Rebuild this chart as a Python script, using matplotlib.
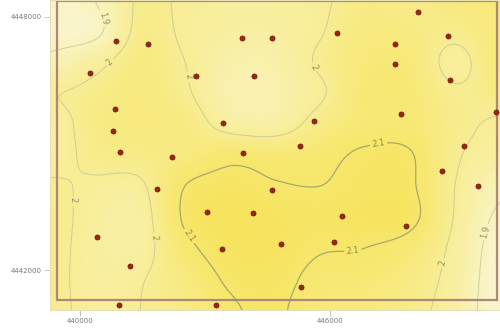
import numpy as np
import matplotlib
matplotlib.use("Agg")
import matplotlib.pyplot as plt
from matplotlib.colors import LinearSegmentedColormap
from matplotlib.patches import Rectangle

# Sample sites (easting, northing) in metres
east = [440864, 441632, 440240, 443888, 444608, 442784, 444176, 448112, 446168, 447560,
        448832, 447560, 448880, 440840, 440792, 443432, 445616, 447704, 449984, 440960,
        442208, 443912, 445280, 449216, 441848, 444608, 448688, 449552, 443048, 444152,
        446288, 447824, 440408, 443408, 444824, 446096, 441200, 445304, 440936, 443264]
north = [4447431, 4447360, 4446672, 4447502, 4447502, 4446601, 4446601, 4448118, 4447620, 4447360,
         4447549, 4446885, 4446506, 4445818, 4445296, 4445486, 4445534, 4445700, 4445747, 4444798,
         4444680, 4444775, 4444941, 4444941, 4443921, 4443897, 4444348, 4443992, 4443375, 4443352,
         4443281, 4443043, 4442783, 4442498, 4442617, 4442664, 4442095, 4441597, 4441170, 4441170]

# Interpolated surface on a coarse grid, rows from north to south
surface = [
    [1.87, 1.90, 2.01, 1.99, 1.98, 1.98, 1.99, 2.03, 2.02, 2.05, 2.06],
    [1.87, 1.88, 2.02, 1.99, 1.97, 1.97, 1.995, 2.05, 2.04, 2.02, 2.06],
    [1.92, 1.975, 2.04, 2.00, 1.95, 1.95, 2.01, 2.06, 2.06, 1.98, 2.06],
    [1.995, 2.02, 2.05, 2.01, 1.94, 1.94, 1.99, 2.07, 2.07, 2.01, 2.03],
    [1.97, 2.03, 2.05, 2.04, 1.97, 1.96, 2.03, 2.07, 2.07, 2.02, 1.99],
    [1.97, 2.02, 2.03, 2.05, 2.08, 2.07, 2.08, 2.11, 2.105, 2.01, 1.97],
    [2.01, 1.99, 1.99, 2.10, 2.12, 2.105, 2.10, 2.12, 2.11, 2.00, 1.92],
    [2.02, 1.98, 1.97, 2.11, 2.14, 2.13, 2.12, 2.13, 2.12, 1.995, 1.885],
    [2.02, 1.975, 1.97, 2.08, 2.13, 2.13, 2.105, 2.10, 2.07, 1.98, 1.86],
    [2.02, 1.975, 1.995, 2.05, 2.11, 2.12, 2.08, 2.07, 2.04, 1.97, 1.85],
    [2.02, 1.98, 2.00, 2.03, 2.09, 2.11, 2.06, 2.05, 2.02, 1.965, 1.84],
]
levels = [1.9, 2.0, 2.1]
x_ticks = [440000, 446000]
y_ticks = [4442000, 4448000]

x_min, x_max = 439280, 450080
y_min, y_max = 4441051, 4448403
frame = (439448, 4441289, 450008, 4448379)


def catmull_rom_matrix(n_in, n_out):
    """Resampling matrix for a Catmull-Rom spline through n_in nodes."""
    t = np.linspace(0, n_in - 1, n_out)
    m = np.zeros((n_out, n_in))
    for k, tk in enumerate(t):
        i = min(int(np.floor(tk)), n_in - 2)
        s = tk - i
        w = [(-s**3 + 2 * s**2 - s) / 2,
             (3 * s**3 - 5 * s**2 + 2) / 2,
             (-3 * s**3 + 4 * s**2 + s) / 2,
             (s**3 - s**2) / 2]
        for j, wj in zip(range(i - 1, i + 3), w):
            m[k, min(max(j, 0), n_in - 1)] += wj
    return m


z = np.array(surface)
ny, nx = z.shape
fy, fx = 311, 451
fine = catmull_rom_matrix(ny, fy) @ z @ catmull_rom_matrix(nx, fx).T
gx = np.linspace(x_min, x_max, fx)
gy = np.linspace(y_max, y_min, fy)

cmap = LinearSegmentedColormap.from_list(
    "pale_yellow", ["#faf6d4", "#f9f2b6", "#f8ed94", "#f7e872", "#f6e258"])

fig = plt.figure(figsize=(5, 3.33), dpi=100)
ax = fig.add_axes([0.1, 0.069, 0.9, 0.931])
ax.imshow(fine, cmap=cmap, vmin=1.84, vmax=2.16, extent=(x_min, x_max, y_min, y_max),
          origin="upper", aspect="auto", interpolation="bilinear", zorder=0)
cs = ax.contour(gx, gy, fine, levels=levels,
                colors=["#d0d1a0", "#cdce98", "#a7a96a"], linewidths=[0.7, 0.7, 0.9], zorder=1)


def to_data(px, py):
    return (x_min + (px - 50) / 450 * (x_max - x_min),
            y_max - py / 310 * (y_max - y_min))


label_px = [(90, 22), (118, 70), (198, 75), (292, 78), (378, 140), (75, 200),
            (195, 232), (157, 237), (353, 253), (440, 262), (487, 232)]
ax.clabel(cs, fmt=lambda v: f"{v:g}", fontsize=6, colors="#8c8d5c",
          manual=[to_data(*p) for p in label_px], inline=True, inline_spacing=2)

ax.add_patch(Rectangle((frame[0], frame[1]), frame[2] - frame[0], frame[3] - frame[1],
                       fill=False, edgecolor="#ad8878", linewidth=1.6, zorder=2))

ax.scatter(east, north, s=14, color="#9c2414", edgecolors="#5e120a", linewidths=0.4, zorder=3)

ax.set_xlim(x_min, x_max)
ax.set_ylim(y_min, y_max)
ax.set_xticks(x_ticks)
ax.set_yticks(y_ticks)
ax.set_xticklabels([str(v) for v in x_ticks])
ax.set_yticklabels([str(v) for v in y_ticks])
ax.tick_params(direction="out", length=4, width=0.6, color="#b8b8b8",
               labelsize=5, labelcolor="#777777", pad=2)
for sp in ax.spines.values():
    sp.set_color("#e6dfb8")
    sp.set_linewidth(0.8)

fig.savefig("out.png", dpi=100)
